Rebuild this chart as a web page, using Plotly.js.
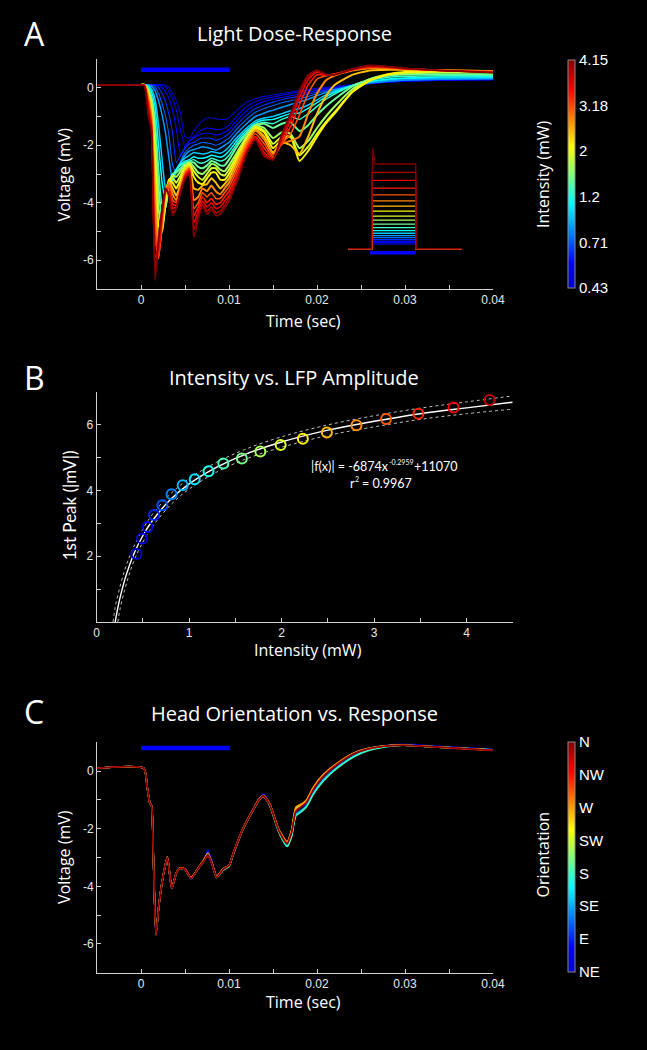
<!DOCTYPE html>
<html><head><meta charset="utf-8">
<script src="https://cdn.plot.ly/plotly-3.0.1.min.js"></script>
<style>html,body{margin:0;padding:0;background:#000;}#chart{width:647px;height:1050px;}</style>
</head><body><div id="chart"></div>
<script>
// ---------- Panel A data: time grid (s) and voltage traces (mV), lowest -> highest intensity ----------
const timeA = [-0.005,-0.002,0,0.0004,0.0008,0.0012,0.0016,0.002,0.0024,0.0028,0.0032,0.0036,0.004,0.0045,0.005,0.0055,0.006,0.0065,0.007,0.0075,0.008,0.0085,0.009,0.0095,0.01,0.011,0.012,0.013,0.014,0.015,0.016,0.017,0.018,0.019,0.02,0.021,0.022,0.024,0.026,0.028,0.03,0.034,0.04];
const vA00 = [0.1,0.1,0.1, 0.1,0.1,0.1,0.1,0.1,0.1,0.09,0.0,-0.2,-0.45,-0.9,-1.7,-1.75, -1.5,-1.3,-1.15,-1.05,-1.05,-1.08,-1.1,-1.1,-1.05, -0.75,-0.5,-0.38,-0.3,-0.25,-0.2,-0.15,-0.1,-0.06,-0.02,0.02,0.05, 0.11,0.16,0.2,0.22,0.25,0.27];
const vA01 = [0.1,0.1,0.1, 0.1,0.1,0.1,0.1,0.1,0.09,0.02,-0.15,-0.4,-0.75,-1.5,-2.05,-1.85, -1.7,-1.55,-1.45,-1.4,-1.42,-1.45,-1.45,-1.4,-1.3, -0.95,-0.65,-0.48,-0.38,-0.32,-0.26,-0.2,-0.15,-0.1,-0.06,-0.02,0.02, 0.08,0.14,0.19,0.22,0.26,0.28];
const vA02 = [0.1,0.1,0.1, 0.1,0.1,0.1,0.1,0.08,0.0,-0.15,-0.4,-0.8,-1.4,-2.35,-2.05,-1.85, -1.75,-1.65,-1.6,-1.58,-1.6,-1.65,-1.62,-1.55,-1.45, -1.1,-0.8,-0.6,-0.48,-0.4,-0.34,-0.28,-0.22,-0.16,-0.1,-0.05,0.0, 0.08,0.15,0.2,0.24,0.27,0.29];
const vA03 = [0.1,0.1,0.1, 0.1,0.1,0.1,0.08,0.0,-0.2,-0.5,-0.95,-1.6,-2.6,-2.35,-2.1,-1.95, -1.9,-1.8,-1.75,-1.75,-1.77,-1.82,-1.78,-1.7,-1.6, -1.25,-0.95,-0.72,-0.6,-0.5,-0.42,-0.35,-0.3,-0.22,-0.15,-0.08,-0.03, 0.07,0.15,0.21,0.25,0.28,0.3];
const vA04 = [0.1,0.1,0.1, 0.1,0.1,0.09,0.02,-0.2,-0.55,-1.0,-1.7,-2.7,-2.95,-2.55,-2.25,-2.1, -2.0,-1.95,-1.9,-1.92,-1.95,-2.0,-1.95,-1.85,-1.75, -1.4,-1.1,-0.85,-0.72,-0.62,-0.52,-0.45,-0.38,-0.3,-0.2,-0.12,-0.05, 0.07,0.16,0.22,0.26,0.29,0.31];
const vA05 = [0.1,0.1,0.1, 0.1,0.1,0.05,-0.1,-0.45,-0.95,-1.6,-2.5,-3.25,-2.95,-2.6,-2.35,-2.2, -2.15,-2.1,-2.05,-2.08,-2.12,-2.17,-2.1,-2.0,-1.9, -1.55,-1.25,-1.0,-0.88,-0.78,-0.68,-0.58,-0.5,-0.4,-0.28,-0.17,-0.08, 0.07,0.17,0.23,0.27,0.3,0.32];
const vA06 = [0.1,0.1,0.1, 0.1,0.08,-0.05,-0.4,-1.3,-2.5,-3.5,-3.6,-3.2,-2.85,-2.6,-2.45,-2.35, -2.25,-2.28,-2.3,-2.28,-2.22,-2.25,-2.28,-2.2,-2.05, -1.7,-1.4,-1.15,-1.05,-1.0,-0.9,-0.8,-0.72,-0.6,-0.42,-0.25,-0.12, 0.08,0.2,0.27,0.31,0.34,0.35];
const vA07 = [0.1,0.1,0.1, 0.1,0.05,-0.15,-0.7,-2.0,-3.3,-3.95,-3.55,-3.1,-2.85,-2.65,-2.55,-2.5, -2.4,-2.45,-2.45,-2.42,-2.35,-2.38,-2.42,-2.35,-2.2, -1.8,-1.48,-1.22,-1.12,-1.1,-1.0,-0.9,-0.88,-0.72,-0.52,-0.32,-0.16, 0.08,0.22,0.3,0.34,0.37,0.38];
const vA08 = [0.1,0.1,0.1, 0.1,0.0,-0.3,-1.1,-2.8,-4.05,-4.15,-3.45,-3.05,-2.85,-2.7,-2.6,-2.55, -2.5,-2.6,-2.62,-2.55,-2.45,-2.5,-2.55,-2.5,-2.35, -1.9,-1.55,-1.28,-1.2,-1.25,-1.1,-1.0,-1.1,-0.9,-0.65,-0.4,-0.22, 0.08,0.26,0.36,0.4,0.42,0.42];
const vA09 = [0.1,0.1,0.1, 0.1,-0.05,-0.4,-1.5,-3.5,-4.55,-4.1,-3.35,-3.0,-2.95,-2.8,-2.65,-2.6, -2.6,-2.75,-2.8,-2.7,-2.55,-2.6,-2.7,-2.7,-2.5, -2.0,-1.6,-1.3,-1.25,-1.4,-1.25,-1.2,-1.5,-1.3,-0.95,-0.65,-0.4, 0.05,0.3,0.42,0.46,0.47,0.47];
const vA10 = [0.1,0.1,0.1, 0.1,-0.1,-0.55,-1.9,-4.2,-4.85,-4.05,-3.25,-3.05,-3.1,-2.9,-2.7,-2.6, -2.75,-2.95,-3.0,-2.85,-2.65,-2.7,-2.85,-2.9,-2.7, -2.2,-1.7,-1.3,-1.4,-1.75,-1.55,-1.6,-2.1,-1.85,-1.4,-1.0,-0.65, -0.05,0.3,0.45,0.5,0.53,0.54];
const vA11 = [0.1,0.1,0.1, 0.1,-0.15,-0.7,-2.4,-4.8,-5.0,-3.9,-3.2,-3.15,-3.3,-3.05,-2.75,-2.65, -2.9,-3.1,-3.2,-3.0,-2.8,-2.8,-3.0,-3.05,-2.85, -2.3,-1.75,-1.35,-1.5,-1.95,-1.7,-1.7,-2.35,-2.05,-1.6,-1.2,-0.85, -0.15,0.25,0.45,0.52,0.56,0.57];
const vA12 = [0.1,0.1,0.1, 0.1,-0.2,-0.85,-2.9,-5.3,-4.9,-3.75,-3.2,-3.3,-3.5,-3.2,-2.85,-2.7, -3.1,-3.3,-3.35,-3.15,-2.95,-2.95,-3.2,-3.2,-3.0, -2.4,-1.8,-1.4,-1.55,-2.1,-1.8,-1.7,-2.55,-2.2,-1.7,-1.25,-0.9, -0.15,0.25,0.47,0.55,0.58,0.58];
const vA13 = [0.1,0.1,0.1, 0.1,-0.25,-1.0,-3.5,-5.6,-4.85,-3.65,-3.25,-3.5,-3.75,-3.35,-2.9,-2.75, -3.5,-3.55,-3.4,-3.35,-3.15,-3.3,-3.5,-3.35,-3.15, -2.5,-1.85,-1.45,-1.7,-2.25,-1.9,-2.0,-2.3,-1.7,-0.9,-0.3,0.1, 0.45,0.6,0.63,0.62,0.6,0.58];
const vA14 = [0.1,0.1,0.1, 0.1,-0.32,-1.1,-4.1,-5.85,-4.7,-3.6,-3.3,-3.7,-3.9,-3.45,-2.95,-2.8, -3.9,-3.8,-3.5,-3.6,-3.4,-3.6,-3.7,-3.5,-3.3, -2.65,-1.95,-1.5,-1.8,-2.3,-1.95,-1.85,-1.7,-0.9,-0.2,0.25,0.42, 0.6,0.68,0.68,0.65,0.61,0.57];
const vA15 = [0.1,0.1,0.1, 0.1,-0.4,-1.2,-4.7,-5.95,-4.6,-3.6,-3.4,-3.9,-4.0,-3.5,-3.0,-2.8, -4.2,-4.0,-3.65,-3.8,-3.65,-3.85,-3.85,-3.65,-3.45, -2.8,-2.05,-1.6,-1.95,-2.4,-1.95,-1.6,-0.95,-0.2,0.3,0.42,0.48, 0.63,0.7,0.7,0.66,0.61,0.56];
const vA16 = [0.1,0.1,0.1, 0.09,-0.5,-1.3,-5.3,-5.85,-4.5,-3.6,-3.5,-4.05,-4.1,-3.55,-3.05,-2.85, -4.45,-4.15,-3.8,-4.0,-3.85,-4.05,-4.0,-3.8,-3.6, -2.95,-2.15,-1.7,-2.1,-2.45,-1.9,-1.35,-0.6,0.1,0.45,0.44,0.47, 0.63,0.72,0.71,0.66,0.6,0.55];
const vA17 = [0.1,0.1,0.1, 0.08,-0.6,-1.4,-5.9,-5.6,-4.4,-3.6,-3.6,-4.2,-4.15,-3.6,-3.1,-2.9, -4.7,-4.3,-3.95,-4.15,-4.0,-4.2,-4.15,-3.95,-3.75, -3.05,-2.25,-1.75,-2.25,-2.5,-1.8,-1.15,-0.35,0.28,0.54,0.45,0.46, 0.63,0.74,0.72,0.67,0.6,0.54];
const vA18 = [0.1,0.1,0.1, 0.07,-0.75,-1.5,-6.4,-5.35,-4.3,-3.55,-3.7,-4.35,-4.2,-3.6,-3.15,-2.95, -4.95,-4.45,-4.05,-4.3,-4.15,-4.35,-4.3,-4.1,-3.85, -3.15,-2.3,-1.8,-2.35,-2.5,-1.7,-1.0,-0.2,0.38,0.58,0.46,0.45, 0.64,0.76,0.73,0.67,0.6,0.53];
const vA19 = [0.1,0.1,0.1, 0.05,-0.9,-1.6,-6.7,-5.2,-4.2,-3.5,-3.8,-4.45,-4.2,-3.6,-3.2,-3.0, -5.2,-4.6,-4.15,-4.4,-4.25,-4.45,-4.4,-4.2,-3.95, -3.2,-2.3,-1.8,-2.4,-2.5,-1.6,-0.9,-0.1,0.45,0.62,0.47,0.45, 0.65,0.78,0.74,0.68,0.6,0.52];
const intensityTickLabels = ['0.43','0.71','1.2','2','3.18','4.15'];
const stimBarT = [0, 0.01];
const stimBarA = [0.63, 0.63];
// inset: light pulse monitor (a.u.)
const insetT = [-0.0053, 0, 0.0001, 0.01, 0.0101, 0.0205];
const pulseLevels = [0.23,0.3,0.37,0.45,0.55,0.65,0.77,0.9,1.05,1.22,1.42,1.62,1.87,2.12,2.38,2.68,3.02,3.4,3.8,4.22];
const spikeT = [-0.0053, -0.0001, 0.0001, 0.0003, 0.0005, 0.0008, 0.01, 0.0101, 0.0205];
const spikeV = [0, 0, 3.4, 5.0, 4.6, 4.22, 4.22, 0, 0];
const insetBarT = [-0.0004, 0.01];
const insetBarV = [-0.2, -0.2];

// ---------- Panel B data ----------
const intensityB = [0.43,0.49,0.55,0.62,0.71,0.81,0.93,1.06,1.21,1.37,1.57,1.77,1.99,2.23,2.49,2.81,3.13,3.48,3.86,4.25];
const peakB = [2.07,2.54,2.89,3.25,3.55,3.88,4.16,4.34,4.58,4.82,4.97,5.18,5.38,5.57,5.76,5.98,6.17,6.33,6.52,6.75];
const fitX = [0.2,0.22,0.25,0.3,0.35,0.4,0.5,0.6,0.8,1.0,1.3,1.6,2.0,2.5,3.0,3.5,4.0,4.5];
const fitY = [0,0.31,0.71,1.25,1.69,2.06,2.63,3.07,3.73,4.2,4.71,5.09,5.47,5.83,6.1,6.33,6.51,6.68];
const upperX = [0.177,0.2,0.25,0.3,0.35,0.4,0.5,0.6,0.8,1.0,1.3,1.6,2.0,2.5,3.0,3.5,4.0,4.5];
const upperY = [0,0.45,1.05,1.55,1.95,2.28,2.83,3.26,3.9,4.36,4.86,5.24,5.63,5.99,6.27,6.5,6.69,6.87];
const lowerX = [0.228,0.25,0.3,0.35,0.4,0.5,0.6,0.8,1.0,1.3,1.6,2.0,2.5,3.0,3.5,4.0,4.5];
const lowerY = [0,0.36,0.95,1.43,1.84,2.43,2.89,3.56,4.04,4.56,4.94,5.31,5.67,5.93,6.16,6.33,6.47];

// ---------- Panel C data ----------
const timeC = [-0.005,0.0003,0.0007,0.001,0.0012,0.0014,0.0017,0.002,0.0024,0.0027,0.003,0.0035,0.004,0.0044,0.005,0.0057,0.0065,0.0071,0.0076,0.0081,0.0086,0.0093,0.01,0.0105,0.0116,0.0127,0.0134,0.0139,0.0146,0.0157,0.0166,0.0171,0.0176,0.0182,0.0188,0.0196,0.0207,0.0223,0.0242,0.0257,0.0279,0.0298,0.0328,0.0359,0.04];
const orientations = ['NE','E','SE','S','SW','W','NW','N'];
const vC_NE = [0.1,0.1,-0.55,-1.1,-1.2,-2.9,-5.7,-4.75,-3.85,-3.35,-3.0,-4.08,-3.55,-3.38,-3.42,-3.74,-3.38,-3.12,-2.74,-3.17,-3.66,-3.42,-3.28,-2.85,-2.0,-1.35,-0.97,-0.8,-1.12,-2.1,-2.48,-2.12,-1.38,-1.23,-1.08,-0.62,-0.17,0.24,0.62,0.78,0.89,0.93,0.88,0.83,0.76];
const vC_E  = [0.1,0.1,-0.55,-1.1,-1.2,-2.9,-5.7,-4.75,-3.85,-3.35,-3.0,-4.08,-3.55,-3.38,-3.42,-3.74,-3.38,-3.13,-2.8,-3.2,-3.68,-3.42,-3.28,-2.85,-2.0,-1.35,-0.98,-0.83,-1.13,-2.1,-2.5,-2.15,-1.4,-1.25,-1.1,-0.63,-0.18,0.23,0.61,0.77,0.88,0.91,0.86,0.81,0.74];
const vC_SE = [0.1,0.1,-0.55,-1.1,-1.2,-2.9,-5.68,-4.75,-3.85,-3.35,-3.0,-4.07,-3.55,-3.38,-3.42,-3.73,-3.38,-3.14,-2.86,-3.24,-3.7,-3.44,-3.3,-2.87,-2.01,-1.37,-1.01,-0.87,-1.16,-2.13,-2.58,-2.25,-1.5,-1.36,-1.2,-0.75,-0.3,0.14,0.53,0.72,0.86,0.9,0.85,0.8,0.74];
const vC_S  = [0.1,0.1,-0.55,-1.1,-1.2,-2.9,-5.68,-4.75,-3.85,-3.35,-3.0,-4.07,-3.55,-3.38,-3.42,-3.73,-3.38,-3.13,-2.92,-3.25,-3.7,-3.45,-3.3,-2.88,-2.02,-1.38,-1.02,-0.88,-1.18,-2.15,-2.62,-2.3,-1.55,-1.42,-1.25,-0.8,-0.35,0.1,0.5,0.7,0.85,0.9,0.85,0.8,0.73];
const vC_SW = [0.1,0.1,-0.55,-1.1,-1.2,-2.9,-5.66,-4.75,-3.85,-3.35,-2.99,-4.06,-3.55,-3.37,-3.41,-3.71,-3.37,-3.12,-2.88,-3.23,-3.67,-3.41,-3.28,-2.85,-1.99,-1.36,-0.99,-0.86,-1.13,-2.07,-2.48,-2.1,-1.3,-1.18,-1.03,-0.58,-0.15,0.26,0.62,0.77,0.88,0.9,0.85,0.8,0.73];
const vC_W  = [0.1,0.1,-0.55,-1.1,-1.2,-2.9,-5.66,-4.75,-3.85,-3.35,-2.98,-4.05,-3.55,-3.36,-3.4,-3.7,-3.36,-3.1,-2.85,-3.22,-3.66,-3.4,-3.27,-2.84,-1.98,-1.35,-0.98,-0.85,-1.12,-2.05,-2.45,-2.05,-1.25,-1.15,-1.0,-0.55,-0.12,0.28,0.63,0.78,0.88,0.9,0.85,0.8,0.73];
const vC_NW = [0.1,0.1,-0.55,-1.1,-1.2,-2.9,-5.68,-4.75,-3.85,-3.35,-3.0,-4.06,-3.55,-3.38,-3.4,-3.72,-3.37,-3.13,-2.95,-3.25,-3.68,-3.42,-3.28,-2.85,-2.0,-1.37,-1.0,-0.87,-1.15,-2.08,-2.5,-2.15,-1.38,-1.23,-1.08,-0.63,-0.18,0.24,0.6,0.76,0.87,0.9,0.85,0.79,0.72];
const vC_N  = [0.1,0.1,-0.55,-1.1,-1.2,-2.9,-5.7,-4.75,-3.85,-3.35,-3.0,-4.08,-3.55,-3.38,-3.42,-3.74,-3.38,-3.15,-2.9,-3.25,-3.7,-3.42,-3.28,-2.85,-2.0,-1.36,-1.0,-0.86,-1.15,-2.1,-2.52,-2.15,-1.4,-1.25,-1.1,-0.65,-0.2,0.22,0.6,0.76,0.87,0.9,0.85,0.8,0.72];
const stimBarC = [0.8, 0.8];

// ---------- styling helpers ----------
const JET_STOPS = [[0,[0,0,200]],[0.11,[0,0,255]],[0.37,[0,255,255]],[0.62,[255,255,0]],[0.87,[255,0,0]],[1,[128,0,0]]];
const JET = JET_STOPS.map(s => [s[0], 'rgb(' + s[1].join(',') + ')']);
function jet(f) {
  f = Math.max(0, Math.min(1, f));
  for (let k = 1; k < JET_STOPS.length; k++) {
    const f0 = JET_STOPS[k-1][0], c0 = JET_STOPS[k-1][1], f1 = JET_STOPS[k][0], c1 = JET_STOPS[k][1];
    if (f <= f1) {
      const u = (f - f0) / (f1 - f0);
      return 'rgb(' + c0.map((v, j) => Math.round(v + (c1[j] - v) * u)).join(',') + ')';
    }
  }
  return JET[JET.length-1][1];
}

const tracesA = [vA00,vA01,vA02,vA03,vA04,vA05,vA06,vA07,vA08,vA09,vA10,vA11,vA12,vA13,vA14,vA15,vA16,vA17,vA18,vA19];
const tracesC = [vC_NE,vC_E,vC_SE,vC_S,vC_SW,vC_W,vC_NW,vC_N];
const nA = tracesA.length;
const data = [];

tracesA.forEach((v, i) => {
  const w = i < 5 ? 1.1 : (i < 9 ? 1.5 : (i < 15 ? 2.0 : 1.6));
  data.push({type:'scatter', mode:'lines', x: timeA, y: v, xaxis:'x', yaxis:'y',
    line:{color: jet(i/(nA-1)), width: w, shape:'spline', smoothing:0.5}, hoverinfo:'skip'});
});
data.push({type:'scatter', mode:'lines', x: stimBarT, y: stimBarA, xaxis:'x', yaxis:'y',
  line:{color:'#0000ff', width:4.5}, hoverinfo:'skip'});

// inset pulses
pulseLevels.forEach((L, i) => {
  if (i === nA - 1) {
    data.push({type:'scatter', mode:'lines', x: spikeT, y: spikeV, xaxis:'x4', yaxis:'y4',
      line:{color: jet(1), width:1.3}, hoverinfo:'skip'});
  } else {
    data.push({type:'scatter', mode:'lines', x: insetT, y: [0, 0, L, L, 0, 0], xaxis:'x4', yaxis:'y4',
      line:{color: jet(i/(nA-1)), width:1.3}, hoverinfo:'skip'});
  }
});
data.push({type:'scatter', mode:'lines', x: insetBarT, y: insetBarV, xaxis:'x4', yaxis:'y4',
  line:{color:'#0000ff', width:3.5}, hoverinfo:'skip'});
// colorbar A
data.push({type:'scatter', mode:'markers', x:[-1], y:[-100], xaxis:'x4', yaxis:'y4', hoverinfo:'skip',
  marker:{color:[0], cmin:0, cmax:5, colorscale: JET, showscale:true, opacity:0, size:1,
    colorbar:{x: 568/647, xanchor:'left', xpad:0, ypad:0, y: 1-174/1050, yanchor:'middle',
      len:228, lenmode:'pixels', thickness:7, outlinewidth:1, outlinecolor:'#8a8a8a',
      tickmode:'array', tickvals:[0,1,2,3,4,5], ticktext: intensityTickLabels, ticks:'',
      tickfont:{family:'Liberation Sans, Arial, sans-serif', size:15, color:'#ffffff'}}}});

// Panel B
data.push({type:'scatter', mode:'lines', x: upperX, y: upperY, xaxis:'x2', yaxis:'y2',
  line:{color:'#bdbdbd', width:1, dash:'dot', shape:'spline'}, hoverinfo:'skip'});
data.push({type:'scatter', mode:'lines', x: lowerX, y: lowerY, xaxis:'x2', yaxis:'y2',
  line:{color:'#bdbdbd', width:1, dash:'dot', shape:'spline'}, hoverinfo:'skip'});
data.push({type:'scatter', mode:'lines', x: fitX, y: fitY, xaxis:'x2', yaxis:'y2',
  line:{color:'#ffffff', width:1.4, shape:'spline'}, hoverinfo:'skip'});
data.push({type:'scatter', mode:'markers', x: intensityB, y: peakB, xaxis:'x2', yaxis:'y2',
  marker:{symbol:'circle-open', size:10, color: intensityB.map((_, i) => jet(0.93 * i/(intensityB.length-1))),
    line:{width:2}}, hoverinfo:'skip'});

// Panel C
tracesC.forEach((v, i) => {
  data.push({type:'scatter', mode:'lines', x: timeC, y: v, xaxis:'x3', yaxis:'y3',
    line:{color: jet(i/(tracesC.length-1)), width:1.6, shape:'spline', smoothing:0.6}, hoverinfo:'skip'});
});
data.push({type:'scatter', mode:'lines', x: stimBarT, y: stimBarC, xaxis:'x3', yaxis:'y3',
  line:{color:'#0000ff', width:4.5}, hoverinfo:'skip'});
data.push({type:'scatter', mode:'markers', x:[-1], y:[-100], xaxis:'x3', yaxis:'y3', hoverinfo:'skip',
  marker:{color:[0], cmin:0, cmax:7, colorscale: JET, showscale:true, opacity:0, size:1,
    colorbar:{x: 568/647, xanchor:'left', xpad:0, ypad:0, y: 1-856.9/1050, yanchor:'middle',
      len:229.7, lenmode:'pixels', thickness:7, outlinewidth:1, outlinecolor:'#8a8a8a',
      tickmode:'array', tickvals:[0,1,2,3,4,5,6,7], ticktext: orientations, ticks:'',
      tickfont:{family:'Liberation Sans, Arial, sans-serif', size:15, color:'#ffffff'}}}});

// ---------- layout ----------
const tickFont = {family:'Liberation Sans, Arial, sans-serif', size:12, color:'#e8e8e8'};
const axBase = {showline:true, linecolor:'#d0d0d0', linewidth:1, ticks:'inside', ticklen:4, tickcolor:'#d0d0d0',
  tickwidth:1, showgrid:false, zeroline:false, tickfont: tickFont, fixedrange:true, tickmode:'array'};
function minorTicks(vals) {
  return {tickmode:'array', tickvals: vals, ticks:'inside', ticklen:4, tickcolor:'#d0d0d0', tickwidth:1, showgrid:false};
}
const timeTicks = [0,0.01,0.02,0.03,0.04];
const timeTickText = ['0','0.01','0.02','0.03','0.04'];
const timeMinor = [0.005,0.015,0.025,0.035];
const voltTicks = [-6,-4,-2,0];
const voltTickText = ['-6','-4','-2','0'];
const voltMinor = [-7,-5,-3,-1,1];

const titleFont = {family:'Open Sans, sans-serif', size:20, color:'#ffffff'};
const axTitleFont = {family:'Open Sans, sans-serif', size:16, color:'#ffffff'};
const letterFont = {family:'Open Sans, sans-serif', size:32, color:'#ffffff'};
const eqFont = {family:'Lato, sans-serif', size:12.5, color:'#ffffff'};
const eqSupFont = {family:'Lato, sans-serif', size:7, color:'#ffffff'};
function ann(text, xpx, ypx, font, extra) {
  return Object.assign({text, x: xpx/647, y: 1 - ypx/1050, xref:'paper', yref:'paper',
    xanchor:'center', yanchor:'middle', showarrow:false, font}, extra || {});
}
const tight = {borderpad:0, borderwidth:0};

const layout = {
  width:647, height:1050, paper_bgcolor:'#000', plot_bgcolor:'rgba(0,0,0,0)',
  margin:{l:0, r:0, t:0, b:0}, showlegend:false, hovermode:false,
  xaxis: Object.assign({}, axBase, {domain:[97/647, 493/647], range:[-0.005,0.04], anchor:'y',
    tickvals: timeTicks, ticktext: timeTickText, minor: minorTicks(timeMinor)}),
  yaxis: Object.assign({}, axBase, {domain:[1-289/1050, 1-59/1050], range:[-7,1], anchor:'x',
    tickvals: voltTicks, ticktext: voltTickText, minor: minorTicks(voltMinor)}),
  xaxis2: Object.assign({}, axBase, {domain:[96.7/647, 512.7/647], range:[0,4.5], anchor:'y2',
    tickvals:[0,1,2,3,4], ticktext:['0','1','2','3','4'], minor: minorTicks([0.5,1.5,2.5,3.5,4.5])}),
  yaxis2: Object.assign({}, axBase, {domain:[1-622/1050, 1-391.7/1050], range:[0,7], anchor:'x2',
    tickvals:[2,4,6], ticktext:['2','4','6'], minor: minorTicks([1,3,5,7])}),
  xaxis3: Object.assign({}, axBase, {domain:[97/647, 493/647], range:[-0.005,0.04], anchor:'y3',
    tickvals: timeTicks, ticktext: timeTickText, minor: minorTicks(timeMinor)}),
  yaxis3: Object.assign({}, axBase, {domain:[1-972.7/1050, 1-742.3/1050], range:[-7,1], anchor:'x3',
    tickvals: voltTicks, ticktext: voltTickText, minor: minorTicks(voltMinor)}),
  xaxis4: {domain:[343/647, 467/647], range:[-0.00652, 0.02166], visible:false, anchor:'y4', fixedrange:true},
  yaxis4: {domain:[1-258/1050, 1-140/1050], range:[-0.463, 5.416], visible:false, anchor:'x4', fixedrange:true},
  annotations: [
    ann('A', 34, 33, letterFont),
    ann('Light Dose-Response', 294, 33, titleFont),
    ann('Time (sec)', 303.7, 321, axTitleFont),
    ann('Voltage (mV)', 64.2, 174.2, axTitleFont, {textangle:-90}),
    ann('Intensity (mW)', 543, 174, axTitleFont, {textangle:-90}),
    ann('B', 34, 377, letterFont),
    ann('Intensity vs. LFP Amplitude', 294, 377, titleFont),
    ann('Intensity (mW)', 308.3, 650, axTitleFont),
    ann('1st Peak (|mV|)', 69.5, 505.8, {family:'Lato, sans-serif', size:17, color:'#ffffff'}, {textangle:-90}),
    // fit equation, written piece by piece (exponent and superscript as small raised texts)
    ann('|f(x)| = -6874x', 388.5, 466.7, eqFont, Object.assign({xanchor:'right'}, tight)),
    ann('-0.2959', 389, 461.8, eqSupFont, Object.assign({xanchor:'left'}, tight)),
    ann('+11070', 413.8, 466.7, eqFont, Object.assign({xanchor:'left'}, tight)),
    ann('r', 354.5, 483.3, eqFont, Object.assign({xanchor:'right'}, tight)),
    ann('2', 355, 478.6, eqSupFont, Object.assign({xanchor:'left'}, tight)),
    ann('= 0.9967', 361.5, 483.3, eqFont, Object.assign({xanchor:'left'}, tight)),
    ann('C', 34, 711, letterFont),
    ann('Head Orientation vs. Response', 294, 713.3, titleFont),
    ann('Time (sec)', 303.7, 1001.7, axTitleFont),
    ann('Voltage (mV)', 64.2, 856.7, axTitleFont, {textangle:-90}),
    ann('Orientation', 542.5, 855, axTitleFont, {textangle:-90})
  ]
};

Plotly.newPlot('chart', data, layout, {displayModeBar:false, responsive:false});
</script>
</body></html>
